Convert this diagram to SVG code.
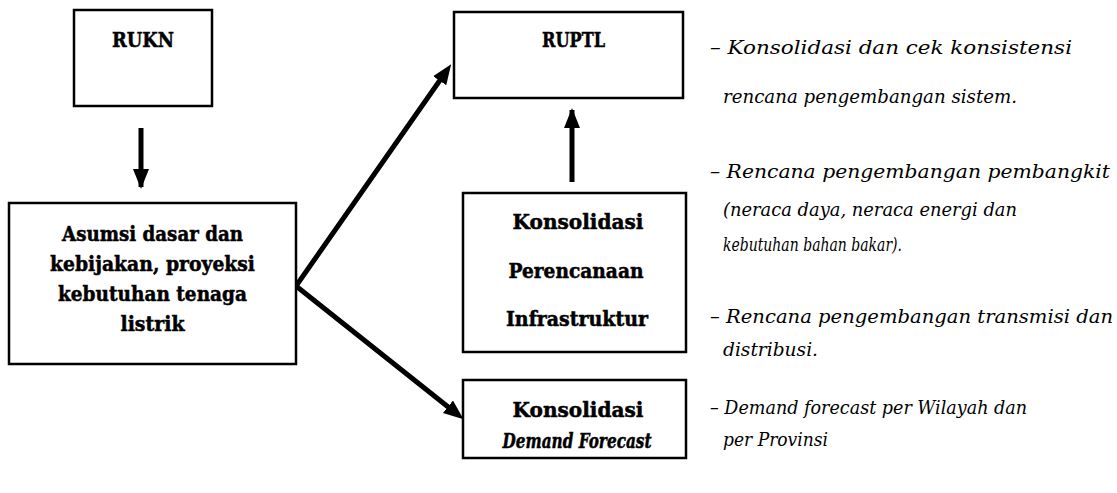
<svg xmlns="http://www.w3.org/2000/svg" width="1117" height="493" viewBox="0 0 1117 493">
<defs>
<style>
.box{fill:#fff;stroke:#000;stroke-width:2.5}
.bt{font-family:"DejaVu Serif",serif;font-weight:bold;font-size:21px;fill:#000;text-anchor:middle;stroke:#000;stroke-width:0.5}
.it{font-family:"DejaVu Serif",serif;font-style:italic;font-size:19px;fill:#000}
.con{stroke:#000;stroke-width:5;fill:none}
</style>
<marker id="ah" markerUnits="userSpaceOnUse" markerWidth="20" markerHeight="20" viewBox="0 0 20 16" refX="18" refY="8" orient="auto">
<path d="M0,0 L20,8 L0,16 Z" fill="#000"/>
</marker>
</defs>
<rect width="1117" height="493" fill="#fff"/>
<g id="connectors">
<line class="con" x1="141" y1="128" x2="141" y2="187" marker-end="url(#ah)"/>
<line class="con" x1="572" y1="182" x2="572" y2="110" marker-end="url(#ah)"/>
<polyline class="con" points="445,73 296,286 457,414" stroke-linejoin="miter"/>
<line class="con" x1="430" y1="94.6" x2="450" y2="66" marker-end="url(#ah)" stroke-opacity="0"/>
<line class="con" x1="440" y1="400.4" x2="462" y2="418" marker-end="url(#ah)" stroke-opacity="0"/>
</g>
<g id="rukn">
<rect class="box" x="74" y="10" width="138" height="96"/>
<text class="bt" x="143" y="47" textLength="62" lengthAdjust="spacingAndGlyphs">RUKN</text>
</g>
<g id="asumsi">
<rect class="box" x="9" y="203" width="287" height="161"/>
<text class="bt" x="152.5" y="241" textLength="181" lengthAdjust="spacingAndGlyphs">Asumsi dasar dan</text>
<text class="bt" x="152.5" y="271" textLength="205" lengthAdjust="spacingAndGlyphs">kebijakan, proyeksi</text>
<text class="bt" x="152.5" y="301" textLength="189" lengthAdjust="spacingAndGlyphs">kebutuhan tenaga</text>
<text class="bt" x="152.5" y="331" textLength="64" lengthAdjust="spacingAndGlyphs">listrik</text>
</g>
<g id="ruptl">
<rect class="box" x="454" y="12" width="229" height="86"/>
<text class="bt" x="573.5" y="47" textLength="63" lengthAdjust="spacingAndGlyphs">RUPTL</text>
</g>
<g id="konsolidasi-perencanaan">
<rect class="box" x="463" y="193" width="223" height="159"/>
<text class="bt" x="578" y="229" textLength="131" lengthAdjust="spacingAndGlyphs">Konsolidasi</text>
<text class="bt" x="576" y="278" textLength="135" lengthAdjust="spacingAndGlyphs">Perencanaan</text>
<text class="bt" x="577" y="326" textLength="142" lengthAdjust="spacingAndGlyphs">Infrastruktur</text>
</g>
<g id="konsolidasi-demand">
<rect class="box" x="463" y="380" width="223" height="78"/>
<text class="bt" x="578" y="417" textLength="131" lengthAdjust="spacingAndGlyphs">Konsolidasi</text>
<text class="bt" x="577" y="448" font-style="italic" textLength="149" lengthAdjust="spacingAndGlyphs">Demand Forecast</text>
</g>
<g id="notes">
<text class="it" x="710" y="54" textLength="362" lengthAdjust="spacingAndGlyphs">– Konsolidasi dan cek konsistensi</text>
<text class="it" x="723" y="103" textLength="294" lengthAdjust="spacingAndGlyphs">rencana pengembangan sistem.</text>
<text class="it" x="710" y="178" textLength="400" lengthAdjust="spacingAndGlyphs">– Rencana pengembangan pembangkit</text>
<text class="it" x="723" y="216" textLength="294" lengthAdjust="spacingAndGlyphs">(neraca daya, neraca energi dan</text>
<text class="it" x="723" y="251" textLength="179" lengthAdjust="spacingAndGlyphs">kebutuhan bahan bakar).</text>
<text class="it" x="710" y="323" textLength="403" lengthAdjust="spacingAndGlyphs">– Rencana pengembangan transmisi dan</text>
<text class="it" x="723" y="356" textLength="95" lengthAdjust="spacingAndGlyphs">distribusi.</text>
<text class="it" x="710" y="414" textLength="317" lengthAdjust="spacingAndGlyphs">– Demand forecast per Wilayah dan</text>
<text class="it" x="723" y="446" textLength="105" lengthAdjust="spacingAndGlyphs">per Provinsi</text>
</g>
</svg>
